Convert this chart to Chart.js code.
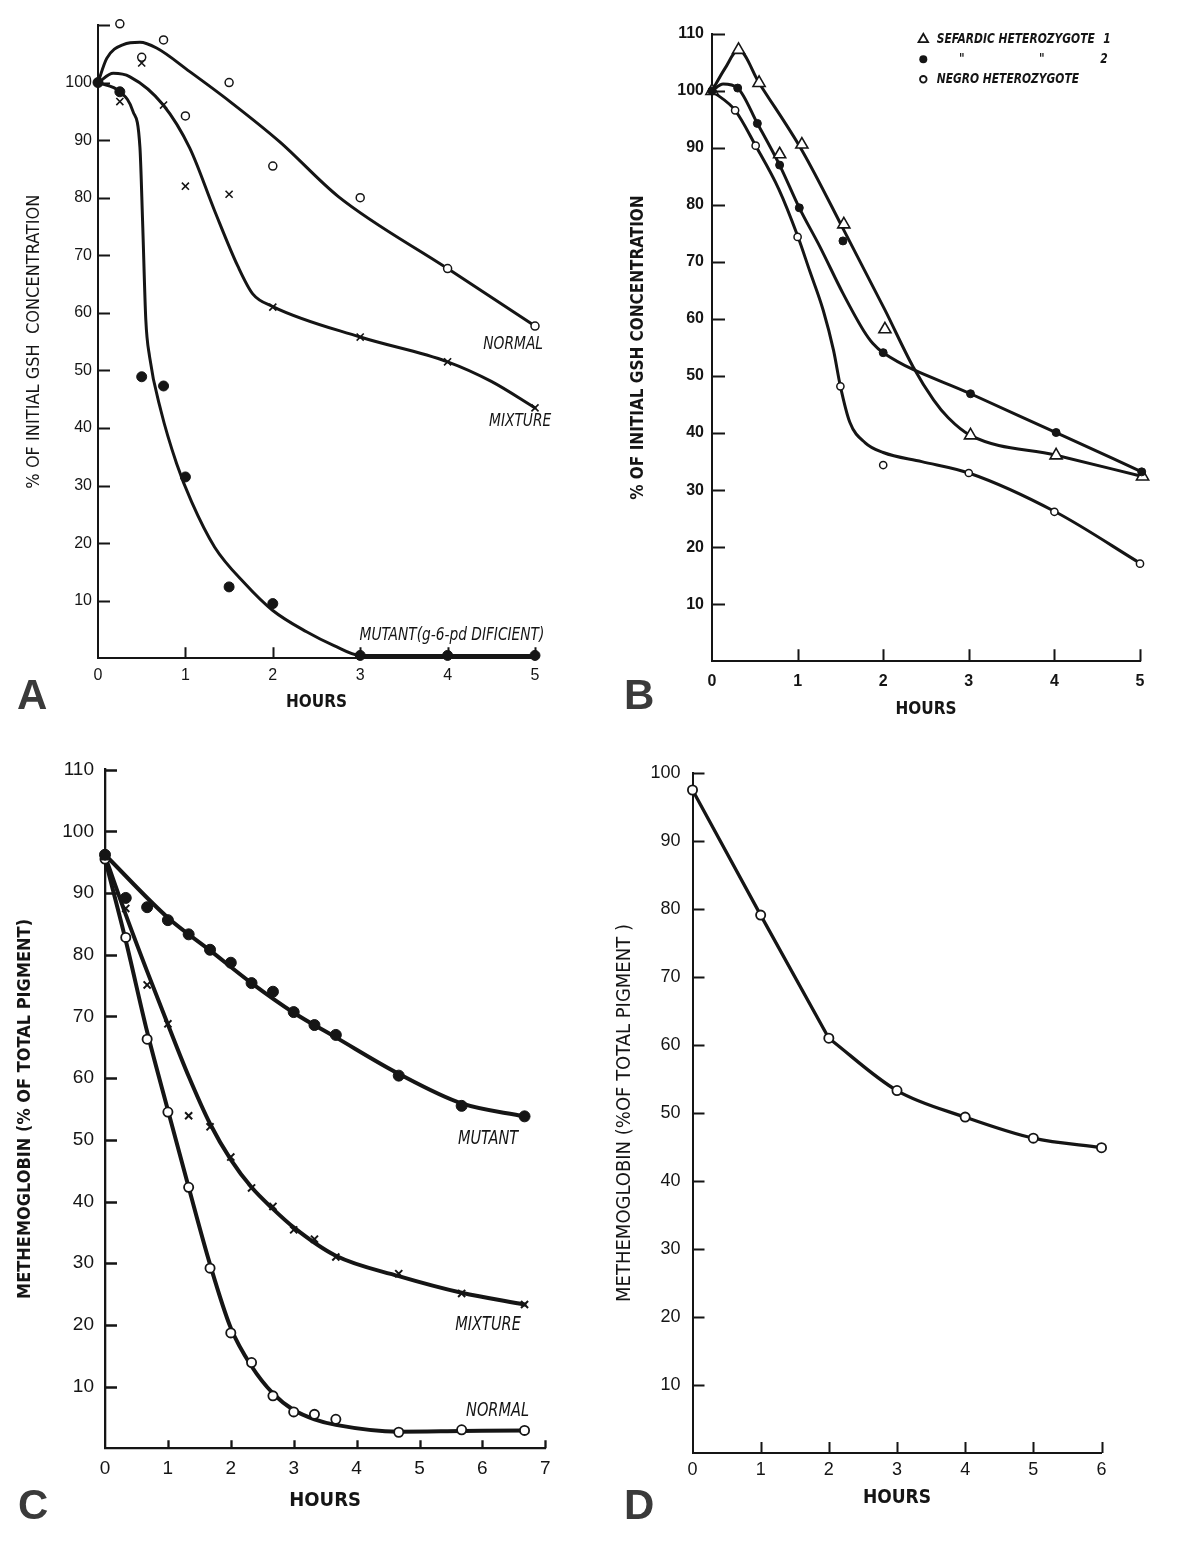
<!DOCTYPE html>
<html>
<head>
<meta charset="utf-8">
<title>GSH stability and methemoglobin reduction</title>
<script src="https://cdn.jsdelivr.net/npm/chart.js@4.4.1/dist/chart.umd.min.js"></script>
<style>
html, body { margin:0; padding:0; background:#fff; }
body { width:1192px; height:1548px; position:relative; overflow:hidden; }
canvas { position:absolute; display:block; }
.letter { position:absolute; font-family:'Liberation Sans', Arial, sans-serif; font-weight:700; font-size:42px; line-height:42px; color:#3a3a3a; }
</style>
</head>
<body>
<canvas id="chartA" width="596" height="740" style="left:0;top:0"></canvas>
<canvas id="chartB" width="596" height="740" style="left:596px;top:0"></canvas>
<canvas id="chartC" width="596" height="808" style="left:0;top:740px"></canvas>
<canvas id="chartD" width="596" height="808" style="left:596px;top:740px"></canvas>
<div class="letter" style="left:17px;top:674px">A</div>
<div class="letter" style="left:624px;top:674px">B</div>
<div class="letter" style="left:18px;top:1484px">C</div>
<div class="letter" style="left:624px;top:1484px">D</div>
<script>
// ---------------- Panel A : GSH stability (normal / mixture / mutant) ----------------
const hoursA   = [0, 0.25, 0.5, 0.75, 1, 1.5, 2, 3, 4, 5];
const normalA  = [100, 110.2, 104.4, 107.4, 94.2, 100, 85.5, 80, 67.7, 57.7];
const mixtureA = [100, 96.7, 103.4, 96.1, 82, 80.6, 61.0, 55.8, 51.5, 43.5];
const mutantA  = [100, 98.4, 48.9, 47.3, 31.5, 12.4, 9.5, 0.5, 0.5, 0.5];
// fitted curves
const curveNormalAx  = [0, 0.1, 0.29, 0.48, 0.67, 1.05, 1.51, 2.08, 2.75, 4, 5];
const curveNormalAy  = [100, 104.2, 106.6, 107, 106, 101.9, 96.7, 89.7, 80.2, 67.7, 57.7];
const curveMixtureAx = [0, 0.175, 0.366, 0.747, 1.05, 1.335, 1.6, 1.77, 2, 3, 4, 4.5, 5];
const curveMixtureAy = [100, 101.6, 101, 96.1, 88.6, 77.7, 68.1, 63.3, 61.1, 55.8, 51.5, 48.1, 43.5];
const curveMutantAx  = [0, 0.25, 0.40, 0.48, 0.51, 0.547, 0.59, 0.72, 0.9, 1.07, 1.335, 1.686, 2.0, 2.386, 2.7, 3, 4, 5];
const curveMutantAy  = [100, 98.4, 95, 88.7, 76, 58.8, 52.4, 43, 33.8, 27.2, 19.3, 12.9, 8.3, 4.6, 2.2, 0.5, 0.5, 0.5];
const yTicksA  = [0, 10, 20, 30, 40, 50, 60, 70, 80, 90, 100, 110];
const yLabelsA = ['', '10', '20', '30', '40', '50', '60', '70', '80', '90', '100', ''];
const xTicksA  = [0, 1, 2, 3, 4, 5];
const xLabelsA = ['0', '1', '2', '3', '4', '5'];

// ---------------- Panel B : heterozygotes ----------------
const sef1Bx  = [0, 0.31, 0.55, 0.79, 1.05, 1.54, 2.02, 3.02, 4.02, 5.03];
const sef1By  = [100, 107.2, 101.4, 88.9, 90.6, 76.6, 58.2, 39.6, 36.1, 32.4];
const sef2Bx  = [0, 0.30, 0.53, 0.79, 1.02, 1.53, 2.0, 3.02, 4.02, 5.02];
const sef2By  = [100, 100.5, 94.3, 87, 79.5, 73.7, 54.1, 46.9, 40.1, 33.2];
const negroBx = [0, 0.27, 0.51, 1.0, 1.5, 2.0, 3.0, 4.0, 5.0];
const negroBy = [100, 96.6, 90.4, 74.4, 48.2, 34.4, 33, 26.2, 17.1];
const curveSef1Bx  = [0, 0.15, 0.31, 0.55, 1.05, 1.54, 2.02, 2.35, 2.59, 2.76, 3.02, 4.02, 5.03];
const curveSef1By  = [100, 103.9, 107.2, 101.4, 89.6, 75.6, 61.6, 51.6, 45.8, 42.7, 39.6, 36.1, 32.4];
const curveSef2Bx  = [0, 0.13, 0.30, 0.53, 0.79, 1.02, 1.26, 1.53, 1.77, 1.88, 2.0, 3.02, 4.02, 5.02];
const curveSef2By  = [100, 101.2, 100.5, 94.3, 87, 79.5, 72.7, 64.5, 58, 55.7, 54.1, 46.9, 40.1, 33.2];
const curveNegroBx = [0, 0.27, 0.51, 0.78, 1.0, 1.14, 1.30, 1.42, 1.50, 1.61, 1.79, 2.0, 2.45, 3.0, 4.01, 5.01];
const curveNegroBy = [100, 96.6, 90.4, 82.8, 74.6, 68.5, 61.5, 54.5, 48.2, 41.9, 38.3, 36.6, 35, 33, 26.2, 17.1];
const yTicksB  = [0, 10, 20, 30, 40, 50, 60, 70, 80, 90, 100, 110];
const yLabelsB = ['', '10', '20', '30', '40', '50', '60', '70', '80', '90', '100', '110'];
const xTicksB  = [0, 1, 2, 3, 4, 5];
const xLabelsB = ['0', '1', '2', '3', '4', '5'];

// ---------------- Panel C : methemoglobin reduction ----------------
const hoursC   = [0, 0.33, 0.67, 1, 1.33, 1.67, 2, 2.33, 2.67, 3, 3.33, 3.67, 4.67, 5.67, 6.67];
const mutantC  = [96.2, 89.2, 87.7, 85.6, 83.3, 80.8, 78.7, 75.4, 74.0, 70.7, 68.6, 67.0, 60.4, 55.5, 53.8];
const mixtureC = [95.9, 87.5, 75.1, 68.8, 53.9, 52.1, 47.2, 42.2, 39.2, 35.4, 33.9, 31.0, 28.3, 25.1, 23.3];
const normalC  = [95.5, 82.8, 66.3, 54.5, 42.3, 29.2, 18.7, 13.9, 8.5, 5.9, 5.5, 4.7, 2.6, 3.0, 2.9];
const curveMutantCx  = [0, 1, 1.67, 2.33, 3, 3.67, 4.67, 5.67, 6.67];
const curveMutantCy  = [96.2, 86.0, 80.7, 75.4, 70.6, 66.6, 60.7, 55.9, 53.8];
const curveMixtureCx = [0, 0.33, 0.67, 1, 1.33, 1.67, 2, 2.33, 2.67, 3, 3.67, 4.67, 5.67, 6.67];
const curveMixtureCy = [96, 86.5, 77.3, 68.7, 60.3, 52.6, 46.8, 42.3, 38.8, 35.8, 31.2, 27.9, 25.2, 23.3];
const curveNormalCx  = [0, 0.33, 0.67, 1, 1.33, 1.67, 2, 2.33, 2.67, 3, 3.33, 3.67, 4.67, 5.67, 6.67];
const curveNormalCy  = [95.5, 82.3, 67.5, 54.8, 42.3, 29.8, 19.5, 13.3, 8.9, 6.2, 4.7, 3.8, 2.7, 2.8, 2.9];
const yTicksC  = [0, 10, 20, 30, 40, 50, 60, 70, 80, 90, 100, 110];
const yLabelsC = ['', '10', '20', '30', '40', '50', '60', '70', '80', '90', '100', '110'];
const xTicksC  = [0, 1, 2, 3, 4, 5, 6, 7];
const xLabelsC = ['0', '1', '2', '3', '4', '5', '6', '7'];

// ---------------- Panel D : methemoglobin, single sample ----------------
const hoursD = [0, 1, 2, 3, 4, 5, 6];
const methD  = [97.5, 79.1, 61.0, 53.3, 49.4, 46.3, 44.9];
const yTicksD  = [0, 10, 20, 30, 40, 50, 60, 70, 80, 90, 100];
const yLabelsD = ['', '10', '20', '30', '40', '50', '60', '70', '80', '90', '100'];
const xTicksD  = [0, 1, 2, 3, 4, 5, 6];
const xLabelsD = ['0', '1', '2', '3', '4', '5', '6'];

// ---------------- helpers ----------------
const INK = '#151515';
const COND = "'DejaVu Sans Condensed', 'DejaVu Sans', sans-serif";
const SANS = "'Liberation Sans', Arial, sans-serif";
const pts = (xs, ys) => xs.map((x, i) => ({ x: x, y: ys[i] }));

function markers(xs, ys, o) {
  return {
    data: pts(xs, ys), showLine: false, clip: false,
    pointStyle: o.style || 'circle', pointRadius: o.r, pointHoverRadius: o.r,
    pointBackgroundColor: o.fill, pointBorderColor: INK, pointBorderWidth: o.bw
  };
}
function curve(xs, ys, w, mode) {
  return {
    data: pts(xs, ys), showLine: true, clip: false, fill: false,
    borderColor: INK, borderWidth: w,
    cubicInterpolationMode: mode === 'straight' ? 'default' : 'monotone',
    tension: mode === 'straight' ? 0 : 0.4,
    borderCapStyle: 'round', borderJoinStyle: 'round',
    pointRadius: 0, pointHoverRadius: 0
  };
}

const inTicksPlugin = {
  id: 'inTicks',
  beforeDatasetsDraw(chart, args, o) {
    const { ctx, chartArea: a, scales } = chart;
    ctx.save();
    ctx.strokeStyle = INK; ctx.lineWidth = o.width; ctx.lineCap = 'butt';
    ctx.beginPath();
    scales.y.ticks.forEach(t => {
      if (t.value <= 0) return;
      const py = Math.round(scales.y.getPixelForValue(t.value)) + 0.5;
      ctx.moveTo(a.left, py); ctx.lineTo(a.left + o.yLen, py);
    });
    scales.x.ticks.forEach(t => {
      if (t.value <= 0) return;
      const px = Math.round(scales.x.getPixelForValue(t.value)) + 0.5;
      ctx.moveTo(px, a.bottom); ctx.lineTo(px, a.bottom - o.xLen);
    });
    ctx.stroke();
    ctx.restore();
  }
};

function squeezedText(ctx, text, x, y, sx, align) {
  ctx.save();
  ctx.translate(x, y);
  ctx.scale(sx, 1);
  ctx.textAlign = align || 'center';
  ctx.fillText(text, 0, 0);
  ctx.restore();
}

const notesPlugin = {
  id: 'notes',
  afterDraw(chart, args, o) {
    if (!o.items || !o.items.length) return;
    const { ctx, scales } = chart;
    ctx.save();
    ctx.fillStyle = INK; ctx.font = o.font; ctx.textBaseline = 'middle';
    o.items.forEach(it => squeezedText(ctx, it.text, scales.x.getPixelForValue(it.x), scales.y.getPixelForValue(it.y), o.sx || 1, 'center'));
    ctx.restore();
  }
};

const keyPlugin = {
  id: 'key',
  afterDraw(chart, args, o) {
    if (!o.rows) return;
    const ctx = chart.ctx;
    ctx.save();
    ctx.fillStyle = INK; ctx.strokeStyle = INK; ctx.font = o.font; ctx.textBaseline = 'middle';
    o.rows.forEach(row => {
      const x = o.x, y = row.y;
      ctx.beginPath();
      if (row.sym === 'triangle') {
        const r = 5.5;
        ctx.moveTo(x, y - r); ctx.lineTo(x + r * 0.866, y + r * 0.5); ctx.lineTo(x - r * 0.866, y + r * 0.5); ctx.closePath();
        ctx.lineWidth = 1.8; ctx.stroke();
      } else if (row.sym === 'dot') {
        ctx.arc(x, y, 4, 0, Math.PI * 2); ctx.fill();
      } else {
        ctx.arc(x, y, 3.3, 0, Math.PI * 2); ctx.lineWidth = 1.8; ctx.stroke();
      }
      row.parts.forEach(p => squeezedText(ctx, p.t, p.x, y, o.sx, p.align || 'center'));
    });
    ctx.restore();
  }
};

function buildChart(id, p) {
  const yLab = {}; p.yTicks.forEach((v, i) => { yLab[v] = p.yLabels[i]; });
  const xLab = {}; p.xTicks.forEach((v, i) => { xLab[v] = p.xLabels[i]; });
  return new Chart(document.getElementById(id), {
    type: 'line',
    data: { datasets: p.datasets },
    options: {
      responsive: false, animation: false, events: [],
      layout: { padding: { left: 0, top: p.area.top, right: p.W - p.area.right, bottom: 0 } },
      plugins: {
        legend: { display: false }, tooltip: { enabled: false },
        inTicks: { width: p.axisW, xLen: p.xTickLen, yLen: p.yTickLen },
        notes: { items: p.notes || [], font: p.noteFont, sx: p.noteSx },
        key: p.key || {}
      },
      scales: {
        x: {
          type: 'linear', position: 'bottom', min: 0, max: p.xTicks[p.xTicks.length - 1],
          afterBuildTicks: s => { s.ticks = p.xTicks.map(v => ({ value: v })); },
          ticks: { font: p.tickFont, color: INK, padding: p.xPad, maxRotation: 0, autoSkip: false,
                   callback: v => (xLab[v] !== undefined ? xLab[v] : '') },
          grid: { display: false, drawTicks: false },
          border: { display: true, color: INK, width: p.axisW },
          title: { display: true, text: 'HOURS', color: INK, font: p.xTitleFont,
                   padding: { top: 0, bottom: p.H - p.xTitleY - p.xTitleFont.size / 2 } },
          afterFit: s => { s.height = p.H - p.area.bottom; }
        },
        y: {
          type: 'linear', position: 'left', min: 0, max: p.yTicks[p.yTicks.length - 1],
          afterBuildTicks: s => { s.ticks = p.yTicks.map(v => ({ value: v })); },
          ticks: { font: p.tickFont, color: INK, padding: p.yPad, autoSkip: false,
                   callback: v => (yLab[v] !== undefined ? yLab[v] : '') },
          grid: { display: false, drawTicks: false },
          border: { display: true, color: INK, width: p.axisW },
          title: { display: true, text: p.yTitle, color: INK, font: p.yTitleFont,
                   padding: { top: p.yTitleX - p.yTitleFont.size / 2, bottom: 0 } },
          afterFit: s => { s.width = p.area.left; }
        }
      }
    },
    plugins: [inTicksPlugin, notesPlugin, keyPlugin]
  });
}

// ---------------- Panel A ----------------
buildChart('chartA', {
  W: 596, H: 740, area: { left: 98, right: 535, top: 25, bottom: 658.3 },
  yTicks: yTicksA, yLabels: yLabelsA, xTicks: xTicksA, xLabels: xLabelsA,
  axisW: 2, xTickLen: 11, yTickLen: 12, xPad: 7.5, yPad: 6,
  tickFont: { family: SANS, size: 16 },
  yTitle: '% OF INITIAL GSH  CONCENTRATION', yTitleX: 34.5,
  yTitleFont: { family: COND, size: 18, lineHeight: 1 },
  xTitleY: 702.5, xTitleFont: { family: COND, size: 17, weight: 'bold', lineHeight: 1 },
  noteFont: "italic 17px " + COND, noteSx: 0.9,
  notes: [
    { text: 'NORMAL', x: 4.75, y: 54.5 },
    { text: 'MIXTURE', x: 4.83, y: 41.1 },
    { text: 'MUTANT(g-6-pd DIFICIENT)', x: 4.05, y: 3.9 }
  ],
  datasets: [
    markers(hoursA, mutantA, { r: 5, fill: INK, bw: 1 }),
    markers(hoursA, mixtureA, { style: 'crossRot', r: 5, fill: INK, bw: 1.6 }),
    markers(hoursA, normalA, { r: 4, fill: '#fff', bw: 1.5 }),
    markers(hoursA, normalA, { r: 0.9, fill: INK, bw: 0 }),
    curve(curveMutantAx, curveMutantAy, 3),
    curve(curveMixtureAx, curveMixtureAy, 3),
    curve(curveNormalAx, curveNormalAy, 3)
  ]
});

// ---------------- Panel B ----------------
buildChart('chartB', {
  W: 596, H: 740, area: { left: 116, right: 544, top: 33.9, bottom: 661.2 },
  yTicks: yTicksB, yLabels: yLabelsB, xTicks: xTicksB, xLabels: xLabelsB,
  axisW: 2, xTickLen: 12, yTickLen: 13, xPad: 11, yPad: 8,
  tickFont: { family: SANS, size: 16, weight: 'bold' },
  yTitle: '% OF INITIAL GSH CONCENTRATION', yTitleX: 42.7,
  yTitleFont: { family: COND, size: 17, weight: 'bold', lineHeight: 1 },
  xTitleY: 709.4, xTitleFont: { family: COND, size: 17, weight: 'bold', lineHeight: 1 },
  key: {
    x: 327.3, font: "italic bold 14px " + COND, sx: 0.85,
    rows: [
      { sym: 'triangle', y: 39.3, parts: [{ t: 'SEFARDIC HETEROZYGOTE', x: 340.7, align: 'left' }, { t: '1', x: 511 }] },
      { sym: 'dot', y: 59.3, parts: [{ t: '"', x: 365.7 }, { t: '"', x: 445.7 }, { t: '2', x: 508 }] },
      { sym: 'ring', y: 79.3, parts: [{ t: 'NEGRO HETEROZYGOTE', x: 340.7, align: 'left' }] }
    ]
  },
  datasets: [
    markers(sef2Bx, sef2By, { r: 4, fill: INK, bw: 1 }),
    markers(sef1Bx, sef1By, { style: 'triangle', r: 7, fill: '#fff', bw: 1.6 }),
    markers(negroBx, negroBy, { r: 3.6, fill: '#fff', bw: 1.5 }),
    curve(curveSef1Bx, curveSef1By, 3),
    curve(curveSef2Bx, curveSef2By, 3),
    curve(curveNegroBx, curveNegroBy, 3)
  ]
});

// ---------------- Panel C ----------------
buildChart('chartC', {
  W: 596, H: 808, area: { left: 105, right: 545.3, top: 29.6, bottom: 708.3 },
  yTicks: yTicksC, yLabels: yLabelsC, xTicks: xTicksC, xLabels: xLabelsC,
  axisW: 2.3, xTickLen: 8, yTickLen: 12, xPad: 8.6, yPad: 11,
  tickFont: { family: SANS, size: 19 },
  yTitle: 'METHEMOGLOBIN (% OF TOTAL PIGMENT)', yTitleX: 25.8,
  yTitleFont: { family: COND, size: 18, weight: 'bold', lineHeight: 1 },
  xTitleY: 760.6, xTitleFont: { family: COND, size: 20, weight: 'bold', lineHeight: 1 },
  noteFont: "italic 19px " + COND, noteSx: 0.85,
  notes: [
    { text: 'MUTANT', x: 6.09, y: 50.1 },
    { text: 'MIXTURE', x: 6.09, y: 20 },
    { text: 'NORMAL', x: 6.24, y: 6.1 }
  ],
  datasets: [
    markers(hoursC, mutantC, { r: 5.5, fill: INK, bw: 1 }),
    markers(hoursC, mixtureC, { style: 'crossRot', r: 5, fill: INK, bw: 2 }),
    markers(hoursC, normalC, { r: 4.6, fill: '#fff', bw: 1.8 }),
    markers(hoursC, normalC, { r: 1, fill: INK, bw: 0 }),
    curve(curveMutantCx, curveMutantCy, 4),
    curve(curveMixtureCx, curveMixtureCy, 4),
    curve(curveNormalCx, curveNormalCy, 4)
  ]
});

// ---------------- Panel D ----------------
buildChart('chartD', {
  W: 596, H: 808, area: { left: 96.5, right: 505.5, top: 33, bottom: 713 },
  yTicks: yTicksD, yLabels: yLabelsD, xTicks: xTicksD, xLabels: xLabelsD,
  axisW: 2, xTickLen: 11, yTickLen: 12, xPad: 6.2, yPad: 12,
  tickFont: { family: SANS, size: 18 },
  yTitle: 'METHEMOGLOBIN (%OF TOTAL PIGMENT )', yTitleX: 28.5,
  yTitleFont: { family: COND, size: 20, lineHeight: 1 },
  xTitleY: 758, xTitleFont: { family: COND, size: 19, weight: 'bold', lineHeight: 1 },
  datasets: [
    markers(hoursD, methD, { r: 4.6, fill: '#fff', bw: 1.8 }),
    curve(hoursD.slice(0, 3), methD.slice(0, 3), 3.3, 'straight'),
    curve(hoursD.slice(2), methD.slice(2), 3.3)
  ]
});
</script>
</body>
</html>
